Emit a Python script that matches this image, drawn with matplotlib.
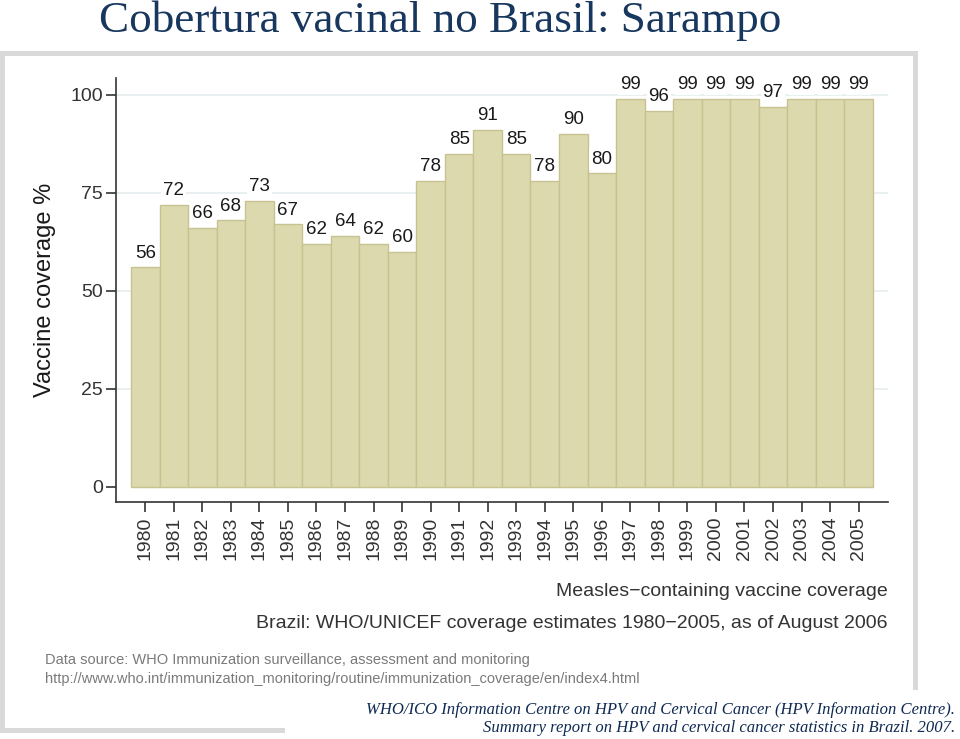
import matplotlib
matplotlib.use("Agg")
import matplotlib.pyplot as plt
from matplotlib.patches import Rectangle

years = [str(y) for y in range(1980, 2006)]
coverage = [56, 72, 66, 68, 73, 67, 62, 64, 62, 60, 78, 85, 91, 85, 78, 90, 80,
            99, 96, 99, 99, 99, 97, 99, 99, 99]
yticks = [0, 25, 50, 75, 100]

W, H = 960, 739
fig = plt.figure(figsize=(W / 100, H / 100), dpi=100)
fig.patch.set_facecolor("white")

def fx(px):
    return px / W

def fy(py):
    return 1 - py / H

# gray picture frame
frame_col = "#d9d9d9"
for (x0, y0, x1, y1) in [(0, 51, 918, 56), (913, 51, 918, 690), (0, 51, 5, 733), (0, 728, 285, 733)]:
    fig.add_artist(Rectangle((fx(x0), fy(y1)), fx(x1 - x0), (y1 - y0) / H,
                             transform=fig.transFigure, facecolor=frame_col,
                             edgecolor="none", zorder=0))

sans = ["Liberation Sans", "DejaVu Sans"]
serif = ["Liberation Serif", "DejaVu Serif"]

ax = fig.add_axes([fx(116), fy(502), fx(888 - 116), (502 - 78) / H])
ax.set_facecolor("none")
x = list(range(len(years)))
bars = ax.bar(x, coverage, width=1.0, color="#dcd9ae", edgecolor="#c8c291",
              linewidth=1.0, zorder=2)
for xi, v in zip(x, coverage):
    ax.annotate(str(v), (xi, v), xytext=(0, 7), textcoords="offset points",
                ha="center", va="baseline", fontsize=13.5, family=sans,
                color="#1a1a1a", zorder=4,
                bbox=dict(boxstyle="square,pad=0.1", facecolor="white", edgecolor="none"))

ax.set_xlim(-1.026, 26.03)
ax.set_ylim(-3.83, 104.3)
ax.set_yticks(yticks)
ax.set_yticklabels([str(t) for t in yticks], family=sans, fontsize=14, color="#333333")
ax.set_xticks(x)
ax.set_xticklabels(years, rotation=90, family=sans, fontsize=14, color="#333333")
ax.tick_params(axis="both", direction="out", length=7.5, width=1.2, color="#333333")
ax.tick_params(axis="y", pad=2)
ax.tick_params(axis="x", pad=3)
for s in ["top", "right"]:
    ax.spines[s].set_visible(False)
for s in ["left", "bottom"]:
    ax.spines[s].set_color("#333333")
    ax.spines[s].set_linewidth(1.2)
for t in [25, 50, 75, 100]:
    ax.axhline(t, color="#e4eef0", linewidth=1.2, zorder=1)

fig.text(fx(45), fy(290), "Vaccine coverage %", rotation=90, ha="center", va="center",
         family=sans, fontsize=17, color="#1a1a1a")

fig.text(fx(888), fy(592), "Measles\u2212containing vaccine coverage", ha="right", va="center",
         family=sans, fontsize=14, color="#333333")
fig.text(fx(888), fy(623), "Brazil: WHO/UNICEF coverage estimates 1980\u22122005, as of August 2006",
         ha="right", va="center", family=sans, fontsize=14, color="#333333")

narrow = ["Liberation Sans Narrow", "Liberation Sans", "DejaVu Sans"]
fig.text(fx(45), fy(660), "Data source: WHO Immunization surveillance, assessment and monitoring",
         ha="left", va="center", family=narrow, fontsize=10.5, color="#7a7a7a")
fig.text(fx(45), fy(679), "http://www.who.int/immunization_monitoring/routine/immunization_coverage/en/index4.html",
         ha="left", va="center", family=narrow, fontsize=10.5, color="#7a7a7a")

fig.text(fx(955), fy(710), "WHO/ICO Information Centre on HPV and Cervical Cancer (HPV Information Centre).",
         ha="right", va="center", family=serif, style="italic", fontsize=12, color="#0f2a52")
fig.text(fx(955), fy(728), "Summary report on HPV and cervical cancer statistics in Brazil. 2007.",
         ha="right", va="center", family=serif, style="italic", fontsize=12, color="#0f2a52")

fig.text(fx(440), fy(21), "Cobertura vacinal no Brasil: Sarampo", ha="center", va="center",
         family=serif, fontsize=32.5, color="#17375e")

fig.savefig("out.png", dpi=100)
